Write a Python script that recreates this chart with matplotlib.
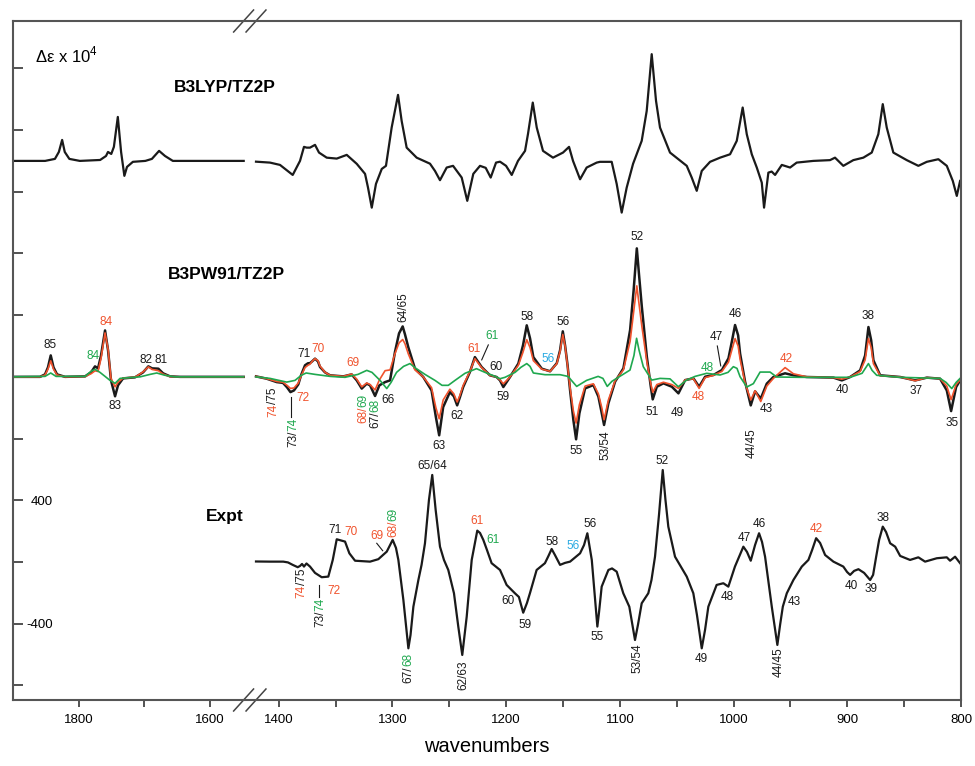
import numpy as np
import matplotlib
matplotlib.use("Agg")
import matplotlib.pyplot as plt
from matplotlib.ticker import FixedLocator, FixedFormatter

plt.rcParams['font.family'] = ['Liberation Sans', 'DejaVu Sans']
plt.rcParams['mathtext.fontset'] = 'custom'
plt.rcParams['mathtext.rm'] = 'Liberation Sans'
plt.rcParams['lines.solid_joinstyle'] = 'round'

RED = '#f0532d'
GREEN = '#1fa84f'
CYAN = '#2aaae2'
BLACK = '#1a1a1a'

# ---- B3LYP/TZ2P (values relative to its own baseline) ----
lyp_hi_wn = [1900, 1851, 1836, 1830, 1825, 1821, 1814, 1798, 1767, 1758, 1755, 1750, 1746, 1740,
             1735, 1730, 1726, 1717, 1698, 1688, 1677, 1668, 1656, 1547]
lyp_hi_de = [0, 0, 13, 58, 136, 58, 13, 0, 6, 32, 58, 45, 91, 285,
             58, -97, -39, -6, 0, 13, 65, 32, 0, 0]

lyp_lo_wn = [1420, 1407.7, 1398.9, 1387.7, 1381.3, 1377.8, 1375.4, 1372.5, 1368.1, 1364.6, 1357.8, 1349,
             1340.2, 1331.4, 1324.1, 1321.5, 1318.2, 1314.5, 1309.4, 1305.7, 1300.7, 1295.1, 1291.9,
             1287.5, 1278.7, 1267, 1262.6, 1258.2, 1252.3, 1246.7, 1239.1, 1234.2, 1228.9, 1223, 1218,
             1213.6, 1208.9, 1205.4, 1200.1, 1195.1, 1189.6, 1183.4, 1180.8, 1176.6, 1173.1, 1167.6,
             1158.8, 1150, 1144.7, 1141.2, 1135, 1129.2, 1120.4, 1117.5, 1107.2, 1102.8, 1098.4, 1094,
             1088.4, 1080.8, 1076.4, 1072, 1068.2, 1064.7, 1055.9, 1041.2, 1036.8, 1032.4, 1028, 1020.7,
             1011.9, 1003.1, 997.2, 992, 988.4, 984, 979.6, 975.2, 973.2, 969.4, 966.5, 963.5, 957.6,
             950.3, 944.5, 929.9, 915.2, 910.8, 903.5, 894.7, 885.9, 878.5, 872.7, 868.8, 865.3, 859.5,
             847.7, 837.5, 830.1, 819.9, 812.5, 807.2, 803.7, 800.8]
lyp_lo_de = [-5, -11, -26, -91, 0, 91, 86, 86, 104, 54, 21, 15,
             39, -19, -84, -173, -303, -149, -52, -32, 216, 428, 259,
             86, 21, -18, -65, -125, -43, -32, -108, -259, -84, -32, -45,
             -108, -11, -5, -32, -91, 0, 65, 175, 378, 216, 65,
             21, 54, 91, 0, -119, -43, -11, -6, -6, -149, -335, -173,
             -19, 130, 324, 692, 389, 216, 54, -32, -108, -194, -65, -6,
             21, 43, 130, 346, 173, 43, -43, -141, -303, -76, -69, -91, -26,
             -43, -11, 0, 5, 21, -32, 5, 21, 54, 173, 368, 216, 54,
             5, -32, -6, 11, -32, -130, -227, -130]

# ---- B3PW91/TZ2P: black, red and green spectra ----
pw_hi_wn = [1900, 1858.8, 1851.1, 1846.6, 1842.4, 1838.2, 1832.8, 1820.6, 1790, 1780.9, 1774.8,
            1770.2, 1765.6, 1759.5, 1754.9, 1750.4, 1744.2, 1739.7, 1732, 1713.7, 1701.5, 1693.4,
            1687.7, 1678.1, 1670.9, 1660.3, 1645, 1547.3]
pw_hi_black = [0, 0, 16, 62, 139, 62, 16, 0, 3, 29, 68,
               55, 139, 301, 172, -23, -126, -55, -10, -3, 29, 68,
               55, 53, 23, 3, 0, 0]
pw_hi_red = [0, 0, 12, 50, 104, 50, 12, 0, 2, 20, 39,
             35, 120, 285, 180, -10, -65, -35, -8, -2, 32, 65,
             48, 40, 18, 2, 0, 0]
pw_hi_green_wn = [1900, 1851.1, 1842.4, 1834.3, 1790, 1780.9, 1774.8, 1767.2, 1759.5, 1751.9, 1744.2,
                  1736.6, 1706, 1690.8, 1680.6, 1667.9, 1652.6, 1547.3]
pw_hi_green = [0, 3, 25, 3, 3, 36, 49, 29, 3, -23, -42,
               -10, 0, 16, 25, 10, 0, 0]

pw_lo_wn = [1420, 1410.6, 1401.8, 1396.3, 1392.7, 1389.7, 1386.6, 1382.8, 1380.4, 1376.9, 1374.3,
            1372.5, 1370.7, 1368.1, 1365.5, 1363.7, 1359.3, 1354.9, 1343.2, 1335.9, 1331.4, 1327,
            1322.6, 1319.7, 1315.3, 1311.5, 1306.5, 1302.1, 1297.8, 1294.2, 1291, 1289, 1286.1,
            1280.2, 1272.9, 1265.6, 1261.8, 1258.9, 1255.4, 1249.5, 1246, 1243.1, 1240.7, 1237.8,
            1231.9, 1227.5, 1221.6, 1214.3, 1208.4, 1205.4, 1202.5, 1196.6, 1189.3, 1185.2, 1181.9,
            1179, 1176.1, 1168.7, 1161.4, 1155.5, 1152.6, 1150.2, 1148.2, 1146, 1143.8, 1140.9,
            1138.5, 1135.6, 1130.6, 1123.3, 1118.9, 1115.9, 1113.9, 1110.1, 1104.2, 1096.9, 1091,
            1087.9, 1085.1, 1083.1, 1080.7, 1076.3, 1072.8, 1071.1, 1067.5, 1061.7, 1054.3, 1048.5,
            1042.6, 1035.3, 1030.3, 1025, 1017.7, 1010.3, 1004.5, 1001.3, 998.7, 996, 994.3, 989.9,
            984.9, 981.1, 976.1, 970.8, 965, 954.7, 947.4, 935.6, 912.2, 904.8, 897.5, 888.7, 884.3,
            881.4, 879, 877, 871.1, 853.5, 840.3, 830, 818.4, 812.5, 808.7, 804.3, 800.8]
pw_lo_black = [3, -12, -34, -39, -68, -99, -88, -49, 10, 75, 88,
               89, 100, 118, 100, 64, 29, 10, 3, 16, -23, -76,
               -44, -55, -124, -55, -34, -23, 161, 282, 327, 276, 193,
               53, -1, -88, -261, -379, -196, -99, -126, -185, -133, -66,
               31, 128, 64, 10, -1, -23, -66, -1, 86, 204, 334,
               250, 128, 53, 36, 88, 172, 295, 204, 75, -86, -280,
               -405, -237, -75, -53, -128, -237, -312, -172, -31, 55, 303,
               561, 833, 658, 455, 131, -64, -146, -64, -42, -64, -107,
               -21, -10, -64, 1, 12, 44, 120, 237, 336, 269, 152, -31,
               -185, -94, -141, -44, -1, 23, 10, -1, -5, -23, -1, 42, 139,
               323, 237, 107, 10, -1, -23, -5, -12, -88, -222, -66, -23]
pw_lo_red = [3, -12, -30, -35, -55, -75, -72, -40, 5, 60, 75,
             82, 100, 118, 105, 70, 30, 10, 3, 18, -15, -65,
             -40, -50, -85, -20, 40, 45, 150, 220, 242, 215, 150,
             45, -1, -70, -200, -272, -150, -80, -110, -163, -120, -55,
             35, 118, 60, 10, -1, -20, -45, 0, 75, 160, 241,
             190, 105, 50, 36, 85, 165, 275, 200, 70, -70, -220,
             -300, -180, -60, -45, -110, -200, -278, -150, -25, 45, 230,
             420, 590, 470, 330, 100, -45, -100, -50, -35, -50, -75,
             -20, -12, -75, -5, 10, 35, 95, 180, 248, 200, 115, -40,
             -150, -90, -160, -60, -10, 60, 20, 0, -5, -15, -1, 35, 110,
             248, 190, 85, 8, -1, -25, -5, -12, -60, -148, -50, -20]
pw_lo_green_wn = [1420, 1407.7, 1393, 1385.7, 1380.2, 1375.9, 1368.1, 1354.9, 1341.7, 1330.3, 1322.6,
                  1318, 1310.9, 1305, 1301.2, 1296.4, 1290.2, 1284.6, 1279.3, 1271.4, 1262.6, 1256.4,
                  1250.9, 1245, 1236.2, 1226.1, 1218.6, 1209.8, 1205.4, 1201, 1192.2, 1187, 1181.9,
                  1179, 1176.1, 1165.8, 1152.6, 1145.6, 1138, 1129.3, 1119.1, 1114.9, 1111.1, 1107,
                  1102.9, 1091.1, 1087.6, 1085.3, 1083.1, 1079.4, 1072, 1064.7, 1055.9, 1048.6, 1041.8,
                  1033.9, 1023.6, 1011.9, 1004.9, 1000.2, 997, 994.3, 988.4, 982.6, 976.7, 967.9, 962.1,
                  941.6, 897.5, 887, 881.4, 878.2, 874.1, 853.5, 818.4, 813.1, 808.1, 804.3, 800.8]
pw_lo_green = [0, -10, -34, -23, 10, 25, 16, 3, -3, 16, 42,
               29, -23, -76, -36, 29, 68, 86, 55, 16, -23, -55,
               -55, -23, 23, 53, 29, 3, -12, -3, 29, 62, 86,
               68, 25, 14, 14, 3, -62, -23, 3, -10, -62, -29,
               -10, 44, 139, 250, 172, 66, -21, -10, -13, -64, -23,
               3, 23, 12, 29, 66, 55, 1, -66, -44, 31, 31, -1,
               -3, -3, 23, 86, 42, 10, -3, -10, -36, -76, -36, -10]

# ---- Experiment ----
expt_wn = [1420, 1407.7, 1396, 1391.9, 1387.7, 1383.3, 1381.3, 1379.5, 1377.8, 1375.6, 1372.5, 1368.1,
           1362.2, 1356.4, 1352.5, 1349, 1344.6, 1341.7, 1337.9, 1332.9, 1319.7, 1312.4, 1308.3, 1305,
           1299.8, 1296.9, 1294.8, 1290.4, 1286, 1284.1, 1281.6, 1277.2, 1274.4, 1271.4, 1267.9, 1265,
           1262, 1258.2, 1254.7, 1250.9, 1245.9, 1242.1, 1238.6, 1234.7, 1230.3, 1225.4, 1223, 1220.1,
           1216.9, 1212.8, 1205.4, 1199.6, 1192.3, 1188.8, 1185, 1181.7, 1179.1, 1173.2, 1165.9, 1162.8,
           1160, 1157.1, 1152.6, 1148.2, 1143.8, 1135, 1131.5, 1128.6, 1124.7, 1121.8, 1119.8, 1118.3,
           1116, 1110.1, 1106.9, 1102.8, 1097, 1091.7, 1086.7, 1084.1, 1080.8, 1075, 1072.2, 1069.1,
           1065.6, 1062.3, 1059.9, 1057.4, 1051.5, 1041.2, 1035.4, 1032.2, 1028, 1025.1, 1022.2, 1014.9,
           1009, 1004.6, 998.8, 991.4, 988.2, 984.9, 981.1, 977.6, 975, 972.3, 966.4, 961.5, 959.1,
           956.7, 953.2, 947.4, 940, 934.2, 930.9, 927.4, 923.9, 919.5, 912.2, 903.5, 900.2, 897.5,
           894, 890.2, 885.2, 879.9, 877.3, 874.6, 872, 868.8, 865.9, 862.3, 857.9, 853.5, 844.8,
           837.5, 831.6, 821.3, 812.5, 809.6, 805.2, 800.8]
expt_de = [3, 2, 2, -3, -19, -34, -26, -13, -30, -10, -30, -71,
           -99, -95, 13, 147, 138, 132, 56, 8, 2, 18, 45, 67,
           143, 91, 13, -246, -560, -473, -290, -117, -19, 121, 402, 564,
           337, 99, 13, -52, -203, -419, -603, -355, 13, 203, 188, 143,
           78, -8, -52, -149, -203, -227, -329, -266, -203, -52, -8, 39,
           84, 45, -19, -6, 2, 56, 110, 186, 13, -246, -419, -324,
           -160, -52, -42, -63, -203, -290, -506, -408, -268, -203, -117, 34,
           305, 596, 402, 229, 34, -95, -203, -344, -560, -441, -290, -149,
           -138, -160, -30, 99, 65, 8, 110, 186, 130, 34, -290, -538, -408,
           -290, -203, -117, -30, 13, 78, 154, 123, 45, 2, -30, -65, -84,
           -58, -47, -71, -117, -84, 34, 143, 229, 194, 121, 99, 39, 13,
           30, 2, 24, 30, 8, 34, -8]

# baselines of the stacked spectra
LYP_OFFSET = 2600
PW_OFFSET = 1200
EXPT_OFFSET = 0

# annotations: (text, color, wavenumber, y)
pw_labels = [('85', BLACK, 1843.5, 1407), ('84', RED, 1758, 1556), ('84', GREEN, 1778, 1335),
             ('83', BLACK, 1744, 1011), ('82', BLACK, 1697, 1310), ('81', BLACK, 1674, 1310),
             ('71', BLACK, 1377.8, 1348), ('70', RED, 1365.5, 1381), ('72', RED, 1378.9, 1065),
             ('69', RED, 1334.4, 1292), ('66', BLACK, 1303.6, 1050), ('63', BLACK, 1258.8, 752),
             ('62', BLACK, 1243, 948), ('61', RED, 1228.3, 1383), ('61', GREEN, 1212.7, 1465),
             ('60', BLACK, 1208.9, 1266), ('59', BLACK, 1203, 1072), ('58', BLACK, 1181.9, 1590),
             ('56', CYAN, 1162.9, 1316), ('56', BLACK, 1149.7, 1556), ('55', BLACK, 1138.8, 720),
             ('52', BLACK, 1085.2, 2107), ('51', BLACK, 1072, 972), ('49', BLACK, 1049.5, 966),
             ('48', RED, 1031, 1070), ('48', GREEN, 1023.1, 1258), ('47', BLACK, 1015.4, 1459),
             ('46', BLACK, 998.7, 1608), ('43', BLACK, 971.5, 992), ('42', RED, 953.9, 1316),
             ('40', BLACK, 904.4, 1115), ('38', BLACK, 882, 1595), ('37', BLACK, 839.8, 1109),
             ('35', BLACK, 807.6, 903)]
expt_labels = [('72', RED, 1351.4, -186), ('71', BLACK, 1350.5, 207), ('70', RED, 1336.7, 196),
               ('69', RED, 1313.8, 169), ('65/64', BLACK, 1264.9, 622), ('61', RED, 1225.4, 268),
               ('61', GREEN, 1211.5, 143), ('60', BLACK, 1198.1, -253), ('59', BLACK, 1183.4, -408),
               ('58', BLACK, 1160, 132), ('56', CYAN, 1140.9, 104), ('56', BLACK, 1126.3, 244),
               ('55', BLACK, 1120, -488), ('52', BLACK, 1063.2, 655), ('49', BLACK, 1028, -631),
               ('48', BLACK, 1006, -229), ('47', BLACK, 990.8, 154), ('46', BLACK, 977.3, 244),
               ('43', BLACK, 946.6, -257), ('42', RED, 926.9, 212), ('40', BLACK, 896.7, -154),
               ('39', BLACK, 879.1, -175), ('38', BLACK, 868.3, 287)]
# rotated labels, pieces listed from bottom to top
vert_labels = [([('74', RED), ('/75', BLACK)], 1405, 940),
               ([('73/', BLACK), ('74', GREEN)], 1387.2, 746),
               ([('68/', RED), ('69', GREEN)], 1325.6, 899),
               ([('67/', BLACK), ('68', GREEN)], 1315.3, 867),
               ([('64/65', BLACK)], 1290.5, 1558),
               ([('53/54', BLACK)], 1113, 661),
               ([('44/45', BLACK)], 983.8, 674),
               ([('74', RED), ('/75', BLACK)], 1379.8, -233),
               ([('73/', BLACK), ('74', GREEN)], 1363.7, -421),
               ([('68/', RED), ('69', GREEN)], 1299.2, 162),
               ([('67/', BLACK), ('68', GREEN)], 1285.9, -784),
               ([('62/63', BLACK)], 1237.7, -830),
               ([('53/54', BLACK)], 1084.6, -720),
               ([('44/45', BLACK)], 960.6, -746)]
leaders = [((1389.2, 1389.2), (1070, 940)), ((1215.7, 1221.5), (1407, 1310)),
           ((1014.3, 1011.3), (1400, 1271)), ((1364.3, 1364.3), (-149, -227)),
           ((1313.8, 1308.6), (121, 73))]

# broken wavenumber axis: 1900-1548 compressed, 1420-800 expanded
BREAK_WN = [800, 1420, 1548, 1900]
BREAK_PX = [0, 705, 717.4, 948]


def fwd(w):
    return np.interp(w, BREAK_WN, BREAK_PX)


def inv(u):
    return np.interp(u, BREAK_PX, BREAK_WN)


fig = plt.figure(figsize=(9.75, 7.66), dpi=100)
ax = fig.add_axes([13 / 975, 1 - 700 / 766, 948 / 975, 679 / 766])
ax.set_xscale('function', functions=(fwd, inv))
ax.set_xlim(1900, 800)
ax.set_ylim(-895, 3507)

# B3LYP
ax.plot(lyp_hi_wn, np.array(lyp_hi_de) + LYP_OFFSET, color=BLACK, lw=1.6)
ax.plot(lyp_lo_wn, np.array(lyp_lo_de) + LYP_OFFSET, color=BLACK, lw=1.6)

# B3PW91
ax.plot(pw_hi_wn, np.array(pw_hi_black) + PW_OFFSET, color=BLACK, lw=1.8)
ax.plot(pw_lo_wn, np.array(pw_lo_black) + PW_OFFSET, color=BLACK, lw=1.8)
ax.plot(pw_hi_wn, np.array(pw_hi_red) + PW_OFFSET, color=RED, lw=1.2)
ax.plot(pw_lo_wn, np.array(pw_lo_red) + PW_OFFSET, color=RED, lw=1.2)
ax.plot(pw_hi_green_wn, np.array(pw_hi_green) + PW_OFFSET, color=GREEN, lw=1.2)
ax.plot(pw_lo_green_wn, np.array(pw_lo_green) + PW_OFFSET, color=GREEN, lw=1.2)

# experiment
ax.plot(expt_wn, np.array(expt_de) + EXPT_OFFSET, color=BLACK, lw=1.6)

FS = 8.5
for s, c, x, y in pw_labels + expt_labels:
    ax.text(x, y, s, color=c, fontsize=FS, ha='center', va='center')

for parts, x, y in vert_labels:
    t = ax.text(x, y, parts[0][0], color=parts[0][1], fontsize=FS, rotation=90,
                ha='center', va='bottom')
    for s, c in parts[1:]:
        t = ax.annotate(s, xy=(0.5, 1.0), xycoords=t, color=c, fontsize=FS, rotation=90,
                        ha='center', va='bottom')

for xs, ys in leaders:
    ax.plot(xs, ys, color=BLACK, lw=0.8)

ax.text(1576, 3073, 'B3LYP/TZ2P', fontsize=12.5, fontweight='bold', ha='center', va='center')
ax.text(1573.6, 1861, 'B3PW91/TZ2P', fontsize=12.5, fontweight='bold', ha='center', va='center')
ax.text(1576.3, 294, 'Expt', fontsize=12.5, fontweight='bold', ha='center', va='center')
ax.text(1866.4, 3287, 'Δε x 10$^4$', fontsize=12, ha='left', va='center')

# axes styling
ax.xaxis.set_major_locator(FixedLocator([1800, 1600, 1400, 1300, 1200, 1100, 1000, 900, 800]))
ax.xaxis.set_major_formatter(FixedFormatter(['1800', '1600', '1400', '1300', '1200',
                                             '1100', '1000', '900', '800']))
ax.xaxis.set_minor_locator(FixedLocator([1700, 1350, 1250, 1150, 1050, 950, 850]))
yt = [-800, -400, 0, 400, 800, 1200, 1600, 2000, 2400, 2800, 3200]
ax.yaxis.set_major_locator(FixedLocator(yt))
ax.yaxis.set_major_formatter(FixedFormatter(['', '-400', '', '400', '', '', '', '', '', '', '']))
ax.tick_params(axis='x', which='both', direction='out', length=5, width=1.3,
               color='#444444', labelsize=9.5, pad=5)
ax.tick_params(axis='y', direction='in', length=7, width=1.3, color='#444444',
               labelsize=9.5, pad=-29)
for sp in ax.spines.values():
    sp.set_color('#555555')
    sp.set_linewidth(1.5)
ax.set_xlabel('wavenumbers', fontsize=14.5, labelpad=8)

# "//" break marks on top and bottom spines
for wn in (1548, 1420):
    xf = 1 - fwd(wn) / 948
    for yf in (0, 1):
        ax.plot([xf - 0.0105, xf + 0.0105], [yf - 0.0162, yf + 0.0162], color='#444444',
                lw=1.1, transform=ax.transAxes, clip_on=False)

fig.savefig('out.png', dpi=100)
